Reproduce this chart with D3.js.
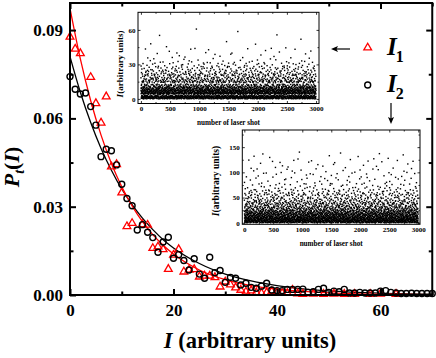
<!DOCTYPE html>
<html>
<head>
<meta charset="utf-8">
<script src="https://cdn.jsdelivr.net/npm/d3@7/dist/d3.min.js"></script>
<style>
  body { margin: 0; background: #fff; }
  svg { display: block; }
  svg text { font-family: "Liberation Serif", "Tinos", "Times New Roman", serif !important; font-weight: bold; }
</style>
</head>
<body>
<svg id="chart" width="436" height="358"></svg>
<script>
// histogram of I1 (red triangles)
const xI1 = [0,1,2,4,5,6,7,8,9,10,11,12,14,15,16,17,18,19,20,21,22,23,24,25,26,27,28,29,30,31,32,33,34,35,36,37,38,39,40,41,42,43,44,45,47,49,51,53,55,58,60,63];
const pI1 = [0.0877,0.0836,0.0821,0.074,0.0651,0.0585,0.0674,0.0436,0.0444,0.0348,0.0233,0.0244,0.024,0.0238,0.0159,0.0164,0.0155,0.0088,0.0136,0.0155,0.0079,0.0085,0.0087,0.0062,0.0065,0.0065,0.006,0.0028,0.0045,0.0035,0.0025,0.0017,0.0011,0.0015,0.0008,0.0006,0.0008,0.0012,0.0008,0.0006,0.0006,0.0017,0.0005,0.0003,0.0004,0.0003,0.0004,0.0003,0.0003,0.0003,0.0004,0.0003];
// histogram of I2 (black circles)
const xI2 = d3.range(0, 71);
const pI2 = [0.0742,0.0699,0.0683,0.0686,0.064,0.0577,0.047,0.0495,0.049,0.0442,
  0.0376,0.0328,0.0303,0.0221,0.0239,0.0213,0.0195,0.0145,0.018,0.0196,
  0.0125,0.0137,0.0117,0.0085,0.0123,0.0071,0.0057,0.0128,0.0076,0.0083,
  0.0043,0.006,0.0057,0.0034,0.004,0.0026,0.0023,0.003,0.004,0.0017,
  0.0015,0.0015,0.0019,0.0019,0.0019,0.002,0.0009,0.0011,0.0019,0.0023,
  0.0009,0.0013,0.0011,0.0019,0.0007,0.0007,0.0009,0.0007,0.0007,0.0007,
  0.0013,0.0015,0.0009,0.0007,0.0005,0.0005,0.0006,0.0005,0.0005,0.0005,0.0005];
// fitted curves
const fitX   = [0,2,4,6,8,10,12,14,16,18,20,25,30,35,40,45,50,60,70];
const fitI1  = [0.0974,0.0802,0.066,0.0543,0.0447,0.0368,0.0303,0.0249,0.0205,0.0169,0.0139,0.0085,0.0052,0.0032,0.002,0.0012,0.00075,0.00028,0.0001];
const fitI2  = [0.081,0.0689,0.0586,0.0498,0.0424,0.036,0.0307,0.0261,0.0222,0.0188,0.016,0.0107,0.0071,0.0048,0.0032,0.0021,0.0014,0.00063,0.00028];

const xTicks = [0,20,40,60], xMinor = [10,30,50,70];
const yTicks = [0,0.03,0.06,0.09], yMinor = [0.015,0.045,0.075];
const shotTicks = [0,500,1000,1500,2000,2500,3000], shotMinor = [250,750,1250,1750,2250,2750];
const in1YTicks = [0,30,60], in1YMinor = [15,45];
const in2YTicks = [0,50,100,150], in2YMinor = [25,75,125,175];
const shots = 3000;
const in2Scale = 2;   // inset 2 plotted in its own units

const svg = d3.select('#chart');
svg.append('rect').attr('width', 436).attr('height', 358).attr('fill', '#fff');

const x = d3.scaleLinear().domain([0, 70]).range([70, 432.25]);
const y = d3.scaleLinear().domain([0, 0.0992]).range([295, 3]);

// fitted lines
const line = d3.line().x((d, i) => x(fitX[i])).y(d => y(d)).curve(d3.curveMonotoneX);
svg.append('path').datum(fitI2).attr('d', line)
  .attr('fill', 'none').attr('stroke', '#000').attr('stroke-width', 1.3);
svg.append('path').datum(fitI1).attr('d', line)
  .attr('fill', 'none').attr('stroke', '#f00').attr('stroke-width', 1.3);

// markers
const tri = d3.symbol().type(d3.symbolTriangle).size(26);
svg.append('g').selectAll('path')
  .data(pI1).enter().append('path')
  .attr('d', tri)
  .attr('transform', (d, i) => `translate(${x(xI1[i])},${y(d)})`)
  .attr('fill', 'none').attr('stroke', '#f00').attr('stroke-width', 1.3);
svg.append('g').selectAll('circle')
  .data(pI2).enter().append('circle')
  .attr('cx', (d, i) => x(xI2[i])).attr('cy', d => y(d)).attr('r', 3)
  .attr('fill', 'none').attr('stroke', '#000').attr('stroke-width', 1.4);

// main axes
function styleAxis(g, size) {
  g.attr('font-family', null);
  g.select('.domain').remove();
  g.selectAll('line').attr('stroke-width', 2);
  g.selectAll('text').attr('font-size', size).attr('fill', '#000');
}
svg.append('g').attr('transform', `translate(0,${y(0)})`)
  .call(d3.axisBottom(x).tickValues(xTicks).tickSize(-6).tickPadding(9).tickFormat(d3.format('d')))
  .call(g => styleAxis(g, 17));
svg.append('g').attr('transform', `translate(0,${y(0)})`)
  .call(d3.axisBottom(x).tickValues(xMinor).tickSize(-3.5).tickFormat(''))
  .call(g => styleAxis(g, 17));
svg.append('g').attr('transform', 'translate(70,0)')
  .call(d3.axisLeft(y).tickValues(yTicks).tickSize(-6).tickPadding(7).tickFormat(d3.format('.2f')))
  .call(g => styleAxis(g, 17));
svg.append('g').attr('transform', 'translate(70,0)')
  .call(d3.axisLeft(y).tickValues(yMinor).tickSize(-3.5).tickFormat(''))
  .call(g => styleAxis(g, 17));
svg.append('g').attr('transform', 'translate(0,3)')
  .call(d3.axisTop(x).tickValues(xTicks).tickSize(-6).tickFormat(''))
  .call(g => styleAxis(g, 17));
svg.append('g').attr('transform', 'translate(0,3)')
  .call(d3.axisTop(x).tickValues(xMinor).tickSize(-3.5).tickFormat(''))
  .call(g => styleAxis(g, 17));
svg.append('g').attr('transform', 'translate(432.25,0)')
  .call(d3.axisRight(y).tickValues(yTicks).tickSize(-6).tickFormat(''))
  .call(g => styleAxis(g, 17));
svg.append('g').attr('transform', 'translate(432.25,0)')
  .call(d3.axisRight(y).tickValues(yMinor).tickSize(-3.5).tickFormat(''))
  .call(g => styleAxis(g, 17));
svg.append('rect').attr('x', 70).attr('y', 3).attr('width', 362.25).attr('height', 292)
  .attr('fill', 'none').attr('stroke', '#000').attr('stroke-width', 2);

// axis titles
const xt = svg.append('text').attr('x', 250).attr('y', 348).attr('text-anchor', 'middle').attr('font-size', 22.5);
xt.append('tspan').attr('font-style', 'italic').text('I');
xt.append('tspan').text(' (arbitrary units)');
const yt = svg.append('text').attr('transform', 'translate(19,167) rotate(-90)')
  .attr('text-anchor', 'middle').attr('font-size', 22);
yt.append('tspan').attr('font-style', 'italic').text('P');
yt.append('tspan').attr('font-style', 'italic').attr('font-size', 14).attr('dy', 5).text('t');
yt.append('tspan').attr('dy', -5).text('(');
yt.append('tspan').attr('font-style', 'italic').text('I');
yt.append('tspan').text(')');

// shot-by-shot values for the insets, built from the histograms above
// (shot number and quantile taken from a Halton sequence)
function halton(i, b) {
  let f = 1, r = 0;
  while (i > 0) { f /= b; r += f * (i % b); i = Math.floor(i / b); }
  return r;
}
function shotSeries(xs, ps, scale) {
  const total = d3.sum(ps);
  const cum = d3.cumsum(ps).map(c => c / total);
  const out = [];
  for (let j = 1; j <= shots; j++) {
    const u = halton(j, 3);
    const i = Math.min(d3.bisectRight(cum, u), ps.length - 1);
    const lo = i ? cum[i - 1] : 0;
    const frac = (u - lo) / (cum[i] - lo);
    out.push({ shot: halton(j, 2) * shots, v: (xs[i] + frac) * scale });
  }
  return out;
}

function drawInset(o) {
  const sx = d3.scaleLinear().domain(o.xDomain).range([o.x0, o.x1]);
  const sy = d3.scaleLinear().domain(o.yDomain).range([o.y1, o.y0]);
  const g = svg.append('g');
  g.append('rect').attr('x', o.x0).attr('y', o.y0).attr('width', o.x1 - o.x0).attr('height', o.y1 - o.y0)
    .attr('fill', '#fff');
  g.append('g').selectAll('rect').data(o.data).enter().append('rect')
    .attr('x', d => sx(d.shot) - 0.7).attr('y', d => sy(d.v) - 0.7)
    .attr('width', 1.4).attr('height', 1.4).attr('fill', '#000');
  const st = (a, fs) => {
    a.attr('font-family', null);
    a.select('.domain').remove();
    a.selectAll('line').attr('stroke-width', 0.8);
    a.selectAll('text').attr('font-size', fs).attr('fill', '#000');
  };
  g.append('g').attr('transform', `translate(0,${o.y1})`)
    .call(d3.axisBottom(sx).tickValues(shotTicks).tickSize(-2.5).tickPadding(2.5).tickFormat(d3.format('d')))
    .call(a => st(a, o.tickFont));
  g.append('g').attr('transform', `translate(0,${o.y1})`)
    .call(d3.axisBottom(sx).tickValues(shotMinor).tickSize(-1.5).tickFormat('')).call(a => st(a, 7));
  g.append('g').attr('transform', `translate(0,${o.y0})`)
    .call(d3.axisTop(sx).tickValues(shotTicks).tickSize(-2.5).tickFormat('')).call(a => st(a, 7));
  g.append('g').attr('transform', `translate(0,${o.y0})`)
    .call(d3.axisTop(sx).tickValues(shotMinor).tickSize(-1.5).tickFormat('')).call(a => st(a, 7));
  g.append('g').attr('transform', `translate(${o.x0},0)`)
    .call(d3.axisLeft(sy).tickValues(o.yTicks).tickSize(-2.5).tickPadding(2.5).tickFormat(d3.format('d')))
    .call(a => st(a, o.tickFont));
  g.append('g').attr('transform', `translate(${o.x0},0)`)
    .call(d3.axisLeft(sy).tickValues(o.yMinor).tickSize(-1.5).tickFormat('')).call(a => st(a, 7));
  g.append('g').attr('transform', `translate(${o.x1},0)`)
    .call(d3.axisRight(sy).tickValues(o.yTicks).tickSize(-2.5).tickFormat('')).call(a => st(a, 7));
  g.append('g').attr('transform', `translate(${o.x1},0)`)
    .call(d3.axisRight(sy).tickValues(o.yMinor).tickSize(-1.5).tickFormat('')).call(a => st(a, 7));
  g.append('rect').attr('x', o.x0).attr('y', o.y0).attr('width', o.x1 - o.x0).attr('height', o.y1 - o.y0)
    .attr('fill', 'none').attr('stroke', '#000').attr('stroke-width', 1);
  g.append('text').attr('x', (o.x0 + o.x1) / 2).attr('y', o.titleY).attr('text-anchor', 'middle')
    .attr('font-size', o.titleFont).text('number of laser shot');
  const lt = g.append('text').attr('transform', `translate(${o.labelX},${o.labelY}) rotate(-90)`)
    .attr('text-anchor', 'middle').attr('font-size', o.labelFont);
  lt.append('tspan').attr('font-style', 'italic').text('I');
  lt.append('tspan').text('(arbitrary units)');
}

drawInset({
  x0: 138, x1: 319, y0: 12.3, y1: 103.5,
  xDomain: [-50, 3050], yDomain: [-4, 75.3],
  yTicks: in1YTicks, yMinor: in1YMinor,
  data: shotSeries(xI1, pI1, 1),
  tickFont: 7, titleFont: 7.2, titleY: 125, labelFont: 9, labelX: 123, labelY: 64
});
drawInset({
  x0: 242.3, x1: 420, y0: 130, y1: 224.3,
  xDomain: [-35, 3030], yDomain: [-3, 184],
  yTicks: in2YTicks, yMinor: in2YMinor,
  data: shotSeries(xI2, pI2, in2Scale),
  tickFont: 7, titleFont: 7.2, titleY: 246, labelFont: 9.5, labelX: 219, labelY: 181
});

// legend
svg.append('path').attr('d', d3.symbol().type(d3.symbolTriangle).size(26))
  .attr('transform', 'translate(367.7,47.7)')
  .attr('fill', 'none').attr('stroke', '#f00').attr('stroke-width', 1.3);
svg.append('circle').attr('cx', 367.7).attr('cy', 85).attr('r', 3)
  .attr('fill', 'none').attr('stroke', '#000').attr('stroke-width', 1.4);
[['1', 55], ['2', 92]].forEach(([s, by]) => {
  const t = svg.append('text').attr('x', 387).attr('y', by).attr('font-size', 25);
  t.append('tspan').attr('font-style', 'italic').text('I');
  t.append('tspan').attr('font-size', 16).attr('dy', 7).attr('dx', -1).text(s);
});

// arrows
svg.append('line').attr('x1', 350).attr('y1', 49).attr('x2', 336).attr('y2', 49)
  .attr('stroke', '#000').attr('stroke-width', 1.2);
svg.append('path').attr('d', 'M331,49L338,46L336.5,49L338,52Z').attr('fill', '#000');
svg.append('line').attr('x1', 391).attr('y1', 103).attr('x2', 391).attr('y2', 119)
  .attr('stroke', '#000').attr('stroke-width', 1.2);
svg.append('path').attr('d', 'M391,124L388,117L391,118.5L394,117Z').attr('fill', '#000');
</script>
</body>
</html>
